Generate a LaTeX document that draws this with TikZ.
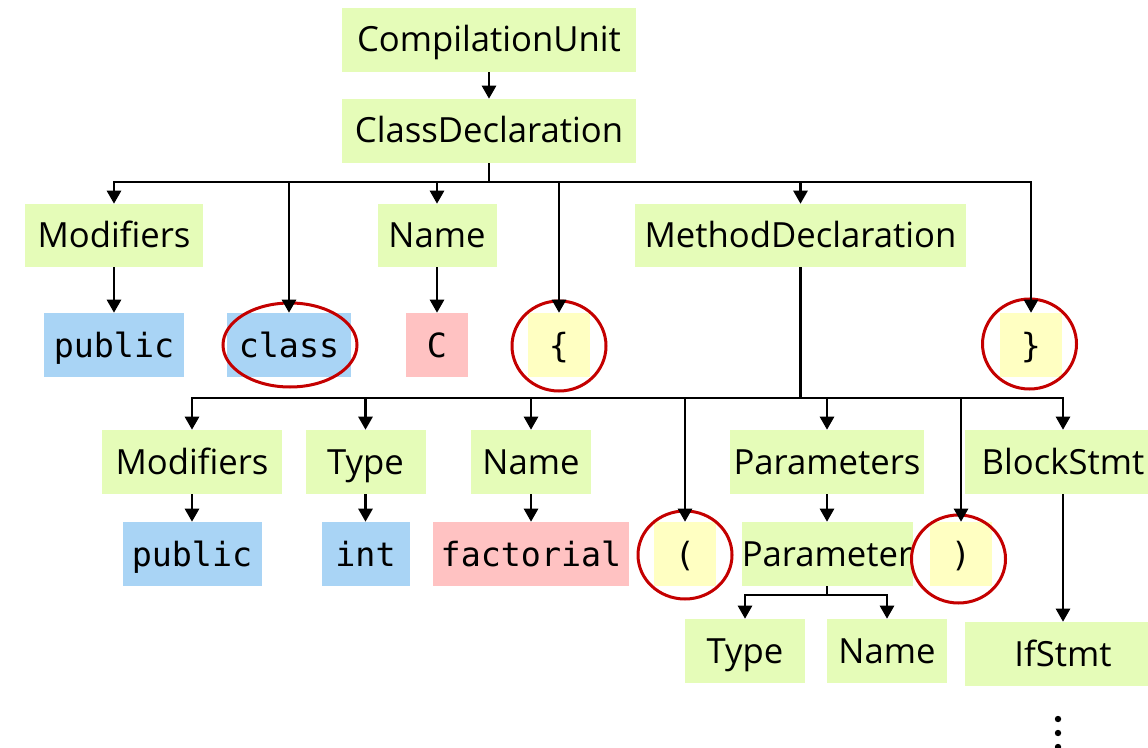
\documentclass[tikz,border=0pt]{standalone}
\usepackage{fontspec}
\setmainfont{Open Sans}
\setmonofont{DejaVu Sans Mono}
\usetikzlibrary{arrows.meta,shapes.geometric}
\newlength\pxu
\setlength\pxu{0.75pt}
\definecolor{astgreen}{HTML}{E5FCB8}
\definecolor{kwblue}{HTML}{A9D4F5}
\definecolor{idpink}{HTML}{FFC2C2}
\definecolor{punctyellow}{HTML}{FFFFC2}
\definecolor{ringred}{HTML}{C40000}
\begin{document}
\begin{tikzpicture}[x=0.75pt,y=-0.75pt,
  box/.style={inner sep=0pt, minimum height=64\pxu, text height=21pt, text depth=3pt},
  ast/.style={box, fill=astgreen, font=\fontsize{26}{30}\selectfont},
  tok/.style={box, font=\ttfamily\fontsize{25}{29}\selectfont},
  kw/.style={tok, fill=kwblue},
  ident/.style={tok, fill=idpink},
  punct/.style={tok, fill=punctyellow},
  ring/.style={ellipse, draw=ringred, line width=3\pxu, inner sep=0pt},
  link/.style={line width=1.95pt},
  arr/.style={link, -{Triangle[width=10.5pt,length=9.75pt]}}]
\useasboundingbox (0,0) rectangle (1148,748);
\clip (0,0) rectangle (1148,748);

% root chain
\node[ast, minimum width=294\pxu] (cu) at (489,40) {CompilationUnit};
\node[ast, minimum width=294\pxu] (cd) at (489,131) {ClassDeclaration};

% class declaration children
\node[ast, minimum width=178\pxu, minimum height=63\pxu] (mods1) at (114,235.5) {Modifiers};
\node[ast, minimum width=119\pxu, minimum height=63\pxu] (name1) at (437,235.5) {Name};
\node[ast, minimum width=331\pxu, minimum height=63\pxu] (md) at (800.5,235.5) {MethodDeclaration};

\node[kw, minimum width=140\pxu] (pub1) at (114,345) {public};
\node[kw, minimum width=124\pxu] (cls) at (289,345) {class};
\node[ident, minimum width=62\pxu] (cc) at (437,345) {C};
\node[punct, minimum width=62\pxu] (lbr) at (559,345) {\{};
\node[punct, minimum width=62\pxu] (rbr) at (1031,345) {\}};

% method declaration children
\node[ast, minimum width=180\pxu] (mods2) at (192,462) {Modifiers};
\node[ast, minimum width=120\pxu] (type2) at (365.5,462) {Type};
\node[ast, minimum width=120\pxu] (name2) at (531,462) {Name};
\node[ast, minimum width=194\pxu] (params) at (827,462) {Parameters};
\node[ast, minimum width=196\pxu] (block) at (1063,462) {BlockStmt};

\node[kw, minimum width=139\pxu] (pub2) at (192,554) {public};
\node[kw, minimum width=88\pxu] (int) at (365.5,554) {int};
\node[ident, minimum width=196\pxu] (fact) at (531,554) {factorial};
\node[punct, minimum width=62\pxu] (lpar) at (685,554) {(};
\node[ast, minimum width=171\pxu] (param) at (827,554) {Parameter};
\node[punct, minimum width=62\pxu] (rpar) at (961,554) {)};

\node[ast, minimum width=120\pxu] (ptype) at (745,651) {Type};
\node[ast, minimum width=120\pxu] (pname) at (887,651) {Name};
\node[ast, minimum width=196\pxu] (ifs) at (1063,654) {IfStmt};

% continuation dots
\fill (1058,719) circle (3.2\pxu);
\fill (1058,733) circle (3.2\pxu);
\fill (1058,747) circle (3.2\pxu);

% highlighted syntax tokens
\node[ring, minimum width=134\pxu, minimum height=84\pxu] (clsring) at (290,345) {};
\node[ring, minimum width=94\pxu, minimum height=90\pxu] (lbrring) at (559,346) {};
\node[ring, minimum width=94\pxu, minimum height=90\pxu] (rbrring) at (1029.5,344) {};
\node[ring, minimum width=94\pxu, minimum height=88\pxu] (lparring) at (685,555) {};
\node[ring, minimum width=94\pxu, minimum height=88\pxu] (rparring) at (958.5,559) {};

% edges
\draw[arr] (cu.south) -- (cd.north);

\coordinate (b1) at (489,182);
\draw[link] (cd.south) -- (b1);
\foreach \t in {mods1,cls,name1,lbr,md,rbr}
  \draw[arr] (b1) -| (\t.north);

\draw[arr] (mods1.south) -- (pub1.north);
\draw[arr] (name1.south) -- (cc.north);

\coordinate (b2) at (800.5,398);
\draw[link] (md.south) -- (b2);
\foreach \t in {mods2,type2,name2,lpar,params,rpar,block}
  \draw[arr] (b2) -| (\t.north);

\draw[arr] (mods2.south) -- (pub2.north);
\draw[arr] (type2.south) -- (int.north);
\draw[arr] (name2.south) -- (fact.north);
\draw[arr] (params.south) -- (param.north);
\draw[arr] (block.south) -- (ifs.north);

\coordinate (b3) at (827,595);
\draw[link] (param.south) -- (b3);
\draw[arr] (b3) -| (ptype.north);
\draw[arr] (b3) -| (pname.north);
\end{tikzpicture}
\end{document}
